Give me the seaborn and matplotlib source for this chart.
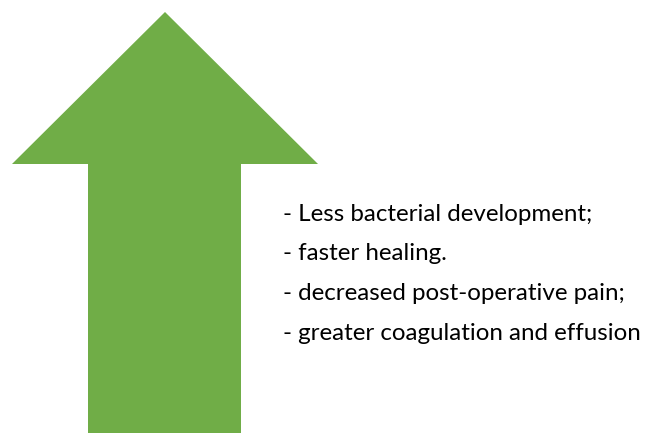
import matplotlib
matplotlib.use("Agg")
import matplotlib.pyplot as plt
import seaborn as sns

# Arrow outline (in image pixel units, y grows downward)
arrow_x = [165, 318, 241, 241, 88, 88, 12]
arrow_y = [12, 164, 164, 433, 433, 164, 164]
ARROW_COLOR = "#70AD47"

# Bullet text
lines = [
    "- Less bacterial development;",
    "- faster healing.",
    "- decreased post-operative pain;",
    "- greater coagulation and effusion",
]
line_x = 283
line_baselines = [221, 260, 300, 340]


def main():
    sns.set_style("white")
    plt.rcParams["font.family"] = ["Lato", "DejaVu Sans"]

    fig = plt.figure(figsize=(6.47, 4.33), dpi=100)
    ax = fig.add_axes([0, 0, 1, 1])
    ax.set_xlim(0, 647)
    ax.set_ylim(433, 0)
    ax.axis("off")

    ax.fill(arrow_x, arrow_y, color=ARROW_COLOR, linewidth=0)

    for txt, yb in zip(lines, line_baselines):
        ax.text(line_x, yb, txt, fontsize=17.4, color="black",
                ha="left", va="baseline")

    fig.savefig("out.png", dpi=100)


if __name__ == "__main__":
    main()
